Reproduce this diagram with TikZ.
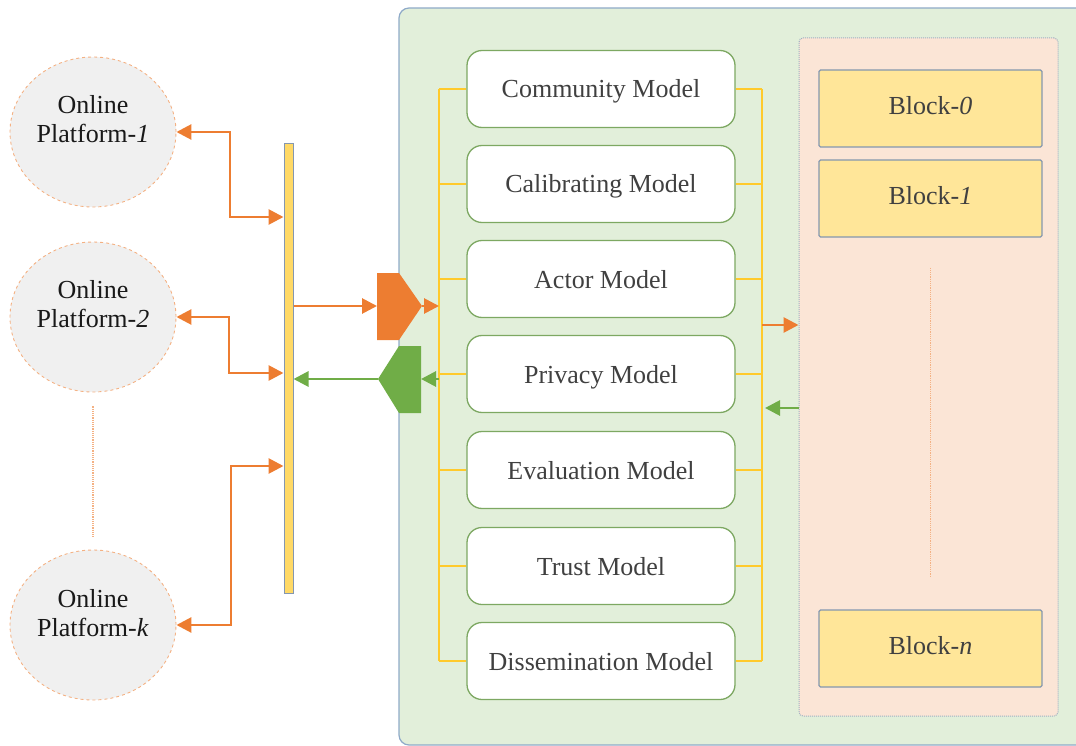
\documentclass[tikz,border=0pt]{standalone}
\usepackage{fontspec}
\setmainfont{Liberation Serif}
\usetikzlibrary{arrows.meta,shapes.geometric,calc}
\definecolor{orng}{HTML}{ED7D31}
\definecolor{grn}{HTML}{70AD47}
\definecolor{barfill}{HTML}{FFD966}
\definecolor{barline}{HTML}{8497B0}
\definecolor{busc}{HTML}{FFCA2C}
\definecolor{panelfill}{HTML}{E2EFDA}
\definecolor{panelline}{HTML}{8FAAC8}
\definecolor{boxline}{HTML}{7DA862}
\definecolor{pinkfill}{HTML}{FBE5D6}
\definecolor{pinkline}{HTML}{9FB0C2}
\definecolor{blockfill}{HTML}{FFE699}
\definecolor{ellfill}{HTML}{F0F0F0}
\definecolor{ellline}{HTML}{F4B183}
\definecolor{txt}{HTML}{404040}
\begin{document}
\begin{tikzpicture}[x=1pt,y=-1pt,
  font=\fontsize{26}{29}\selectfont,
  platform/.style={ellipse,draw=ellline,dashed,line width=0.9pt,fill=ellfill,minimum width=166pt,minimum height=150pt,inner sep=0pt},
  ptext/.style={align=center,text=black!90,inner sep=0pt},
  model/.style={rectangle,rounded corners=15pt,draw=boxline,line width=1.3pt,fill=white,minimum width=268pt,minimum height=77pt,text=txt,inner sep=0pt,text height=24pt,text depth=6pt},
  blockbox/.style={rectangle,rounded corners=1.5pt,draw=barline,line width=1.3pt,fill=blockfill,minimum width=223pt,minimum height=77pt,text=txt,inner sep=0pt,text height=18pt,text depth=6pt},
  bus/.style={draw=busc,line width=1.5pt},
  oarr/.style={draw=orng,line width=2.8pt,-{Triangle[length=15pt,width=15pt]}},
  garr/.style={draw=grn,line width=2.8pt,-{Triangle[length=15pt,width=15pt]}},
  biarr/.style={draw=orng,line width=2.8pt,{Triangle[length=15pt,width=15pt]}-{Triangle[length=15pt,width=15pt]}},
  dotline/.style={draw=ellline,densely dotted,line width=1.2pt}
]
\useasboundingbox (0,0) rectangle (1076,746);

% big panel
\draw[fill=panelfill,draw=panelline,line width=1.2pt,rounded corners=10pt] (399,8) rectangle (1110,745);

% pink chain region
\node[rectangle,rounded corners=4pt,fill=pinkfill,draw=pinkline,densely dotted,line width=1pt,minimum width=259pt,minimum height=678pt,inner sep=0pt] (chain) at (928.5,377) {};

% platforms
\node[platform] (p1) at (93,132) {};
\node[ptext] (p1t) at (93,119) {Online\\Platform-\textit{1}};
\node[platform] (p2) at (93,317) {};
\node[ptext] (p2t) at (93,304) {Online\\Platform-\textit{2}};
\node[platform] (pk) at (93,625) {};
\node[ptext] (pkt) at (93,613) {Online\\Platform-\textit{k}};
\draw[dotline] ([yshift=-14pt]p2.south) -- ([yshift=13pt]pk.north);

% yellow bar
\node[rectangle,fill=barfill,draw=barline,line width=1pt,minimum width=9pt,minimum height=449pt,inner sep=0pt] (bar) at (288.5,368.5) {};

% platform <-> bar
\draw[biarr] (p1.east) -- (230,132) |- (bar.west |- 0,217);
\draw[biarr] (p2.east) -- (229,317) |- (bar.west |- 0,373);
\draw[biarr] (pk.east) -- (231,625) |- (bar.west |- 0,466);

% pentagons
\coordinate (opw) at (377,306);
\coordinate (ope) at (422,306);
\fill[orng] (377,273) -- (399,273) -- (ope) -- (399,340) -- (377,340) -- cycle;
\coordinate (gpw) at (378,379);
\coordinate (gpe) at (421,379);
\fill[grn] (gpw) -- (399,346) -- (421,346) -- (421,413) -- (399,413) -- cycle;

\draw[oarr] (bar.east |- opw) -- (opw);
\draw[garr] (gpw) -- (bar.east |- gpw);

% models
\node[model] (m1) at (601,89) {Community Model};
\node[model] (m2) at (601,184) {Calibrating Model};
\node[model] (m3) at (601,279) {Actor Model};
\node[model] (m4) at (601,374) {Privacy Model};
\node[model] (m5) at (601,470) {Evaluation Model};
\node[model] (m6) at (601,566) {Trust Model};
\node[model] (m7) at (601,661) {Dissemination Model};

% buses
\coordinate (lb) at (439,0);
\coordinate (rb) at (762,0);
\draw[bus] (m1.west -| lb) -- (m7.west -| lb);
\draw[bus] (m1.east -| rb) -- (m7.east -| rb);
\foreach \m in {m1,m2,m3,m4,m5,m6,m7}{
  \draw[bus] (\m.west) -- (\m.west -| lb);
  \draw[bus] (\m.east) -- (\m.east -| rb);
}

% pentagon <-> bus
\draw[oarr] (ope) -- (ope -| lb);
\draw[garr] (gpe -| lb) -- (gpe);

% bus <-> chain
\coordinate (ro) at (762,325);
\coordinate (rg) at (765,408);
\draw[oarr] (ro) -- (ro -| chain.west);
\draw[garr] (chain.west |- rg) -- (rg);

% blocks
\node[blockbox] (b0) at (930.5,108.5) {Block-\textit{0}};
\node[blockbox] (b1) at (930.5,198.5) {Block-\textit{1}};
\node[blockbox] (bn) at (930.5,648.5) {Block-\textit{n}};
\draw[dotline] ([yshift=-30pt]b1.south) -- ([yshift=32pt]bn.north);
\end{tikzpicture}
\end{document}
